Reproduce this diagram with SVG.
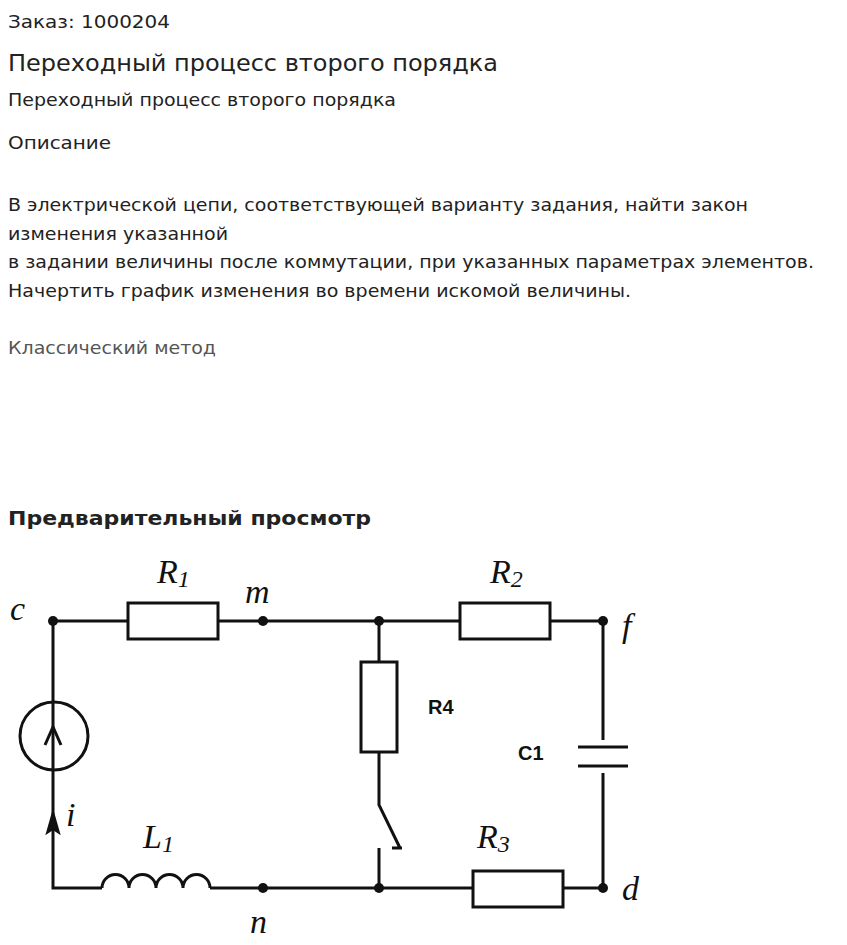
<svg xmlns="http://www.w3.org/2000/svg" width="847" height="945" viewBox="0 0 847 945">
<style>
.t{font-family:"DejaVu Sans",sans-serif;fill:#222}
.w{stroke:#111;stroke-width:3;fill:none}
.r{stroke:#111;stroke-width:3;fill:#fff}
.it{font-family:"Liberation Serif",serif;font-style:italic;fill:#111;font-size:34px}
.lb{font-family:"Liberation Sans",sans-serif;font-weight:bold;fill:#111;font-size:20px}
</style>
<rect width="847" height="945" fill="#fff"/>
<g lengthAdjust="spacingAndGlyphs">
<text class="t" x="8" y="28" font-size="18" textLength="162" lengthAdjust="spacingAndGlyphs">Заказ: 1000204</text>
<text class="t" x="8" y="71" font-size="23" textLength="490" lengthAdjust="spacingAndGlyphs">Переходный процесс второго порядка</text>
<text class="t" x="8" y="106" font-size="18" textLength="388" lengthAdjust="spacingAndGlyphs">Переходный процесс второго порядка</text>
<text class="t" x="8" y="149" font-size="18" textLength="103" lengthAdjust="spacingAndGlyphs">Описание</text>
<text class="t" x="8" y="211" font-size="18" textLength="740" lengthAdjust="spacingAndGlyphs">В электрической цепи, соответствующей варианту задания, найти закон</text>
<text class="t" x="8" y="240" font-size="18" textLength="220" lengthAdjust="spacingAndGlyphs">изменения указанной</text>
<text class="t" x="8" y="268" font-size="18" textLength="806" lengthAdjust="spacingAndGlyphs">в задании величины после коммутации, при указанных параметрах элементов.</text>
<text class="t" x="8" y="297" font-size="18" textLength="623" lengthAdjust="spacingAndGlyphs">Начертить график изменения во времени искомой величины.</text>
<text class="t" x="8" y="354" font-size="18" textLength="208" lengthAdjust="spacingAndGlyphs" style="fill:#555">Классический метод</text>
<text class="t" x="8" y="525" font-size="20" font-weight="bold" textLength="363" lengthAdjust="spacingAndGlyphs">Предварительный просмотр</text>
</g>
<g id="connectors">
<path class="w" d="M53 621H128M218 621H460M550 621H603V740M603 773V888H563M473 888H210M102 888H53V621"/>
<path class="w" d="M379 621V662M379 752V805L400 848M379 848V888M392 848H402"/>
<path class="w" d="M578 747H628M578 766H628" stroke-width="5"/>
<path class="w" d="M102 888a13.5 13.5 0 0 1 27 0a13.5 13.5 0 0 1 27 0a13.5 13.5 0 0 1 27 0a13.5 13.5 0 0 1 27 0"/>
<path d="M47 833L53 812L59 833L53 829Z" fill="#111" stroke="#111" stroke-width="2"/>
<path class="w" d="M45 745L53 727L61 745"/>
</g>
<g id="src"><circle class="w" cx="54" cy="736" r="34"/></g>
<g id="R1"><rect class="r" x="128" y="603" width="90" height="36"/></g>
<g id="R2"><rect class="r" x="460" y="603" width="90" height="36"/></g>
<g id="R3"><rect class="r" x="473" y="871" width="90" height="36"/></g>
<g id="R4"><rect class="r" x="361" y="662" width="36" height="90"/></g>
<g id="nodes" fill="#111">
<circle cx="53" cy="621" r="5"/><circle cx="263" cy="621" r="5"/><circle cx="379" cy="621" r="5"/><circle cx="603" cy="621" r="5"/>
<circle cx="263" cy="888" r="5"/><circle cx="379" cy="888" r="5"/><circle cx="603" cy="888" r="5"/>
</g>
<g id="labels">
<text class="it" x="10" y="620">c</text>
<text class="it" x="157" y="583">R<tspan font-size="24" dy="4">1</tspan></text>
<text class="it" x="245" y="603">m</text>
<text class="it" x="490" y="583">R<tspan font-size="24" dy="4">2</tspan></text>
<text class="it" x="622" y="637">f</text>
<text class="lb" x="428" y="714">R4</text>
<text class="lb" x="518" y="760">C1</text>
<text class="it" x="66" y="826">i</text>
<text class="it" x="143" y="848">L<tspan font-size="24" dy="4">1</tspan></text>
<text class="it" x="477" y="848">R<tspan font-size="24" dy="4">3</tspan></text>
<text class="it" x="622" y="900">d</text>
<text class="it" x="250" y="933">n</text>
</g>
</svg>
